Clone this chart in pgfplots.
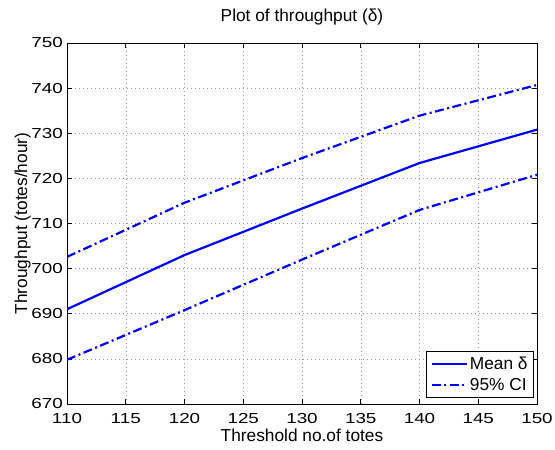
\documentclass[border=0pt]{standalone}
\usepackage{fontspec}
\setmainfont{Liberation Sans}
\newfontfamily\tickfont[FakeStretch=1.3]{Liberation Sans}
\usepackage{pgfplots}
\pgfplotsset{compat=1.18}
\definecolor{mblue}{RGB}{0,0,255}

\begin{document}
\begin{tikzpicture}
\begin{axis}[
    scale only axis,
    width=470bp, height=361bp,
    xmin=110, xmax=150,
    ymin=670, ymax=750,
    xtick={110,115,...,150},
    ytick={670,680,...,750},
    tick align=inside, xtick pos=both, ytick pos=both,
    major tick length=5bp,
    tick style={black, line width=0.6bp},
    axis line style={line width=0.8bp},
    grid=major,
    major grid style={gray!80, line width=0.5bp, dash pattern=on 1bp off 3bp},
    /pgf/number format/assume math mode=true,
    /pgf/number format/1000 sep={},
    ticklabel style={font=\tickfont\fontsize{14.5bp}{17bp}\selectfont, inner sep=0pt},
    xticklabel style={anchor=base, yshift=-19bp},
    yticklabel style={anchor=east, xshift=-4bp},
    title={Plot of throughput (δ)},
    title style={font=\fontsize{17.3bp}{20bp}\selectfont, at={(axis description cs:0.5,1.0443)}, anchor=base, inner sep=0pt},
    xlabel={Threshold no.of totes},
    xlabel style={font=\fontsize{17.3bp}{20bp}\selectfont, at={(axis description cs:0.5,-0.1025)}, anchor=base, inner sep=0pt},
    ylabel={Throughput (totes/hour)},
    ylabel style={font=\fontsize{17.3bp}{20bp}\selectfont, at={(axis description cs:-0.0851,0.5)}, rotate=0, anchor=base, inner sep=0pt},
    legend style={at={(axis description cs:0.9936,0.0166)}, anchor=south east,
        draw=black, line width=0.8bp, fill=white,
        font=\fontsize{17.3bp}{20bp}\selectfont,
        row sep=3bp, inner sep=4bp},
    legend cell align=left,
    legend image code/.code={\draw[#1] (0bp,0bp) -- (35bp,0bp);},
]
\coordinate (sw) at (rel axis cs:0,0);
\coordinate (ne) at (rel axis cs:1,1);
\addplot[mblue, line width=2.2bp] coordinates {
    (110,691.0)(120,703.0)(130,713.3)(140,723.4)(150,730.8)
};
\addlegendentry{Mean δ}
\addplot[mblue, line width=2.2bp, dash pattern=on 9bp off 3.5bp on 2bp off 3.5bp] coordinates {
    (110,702.6)(120,714.6)(130,724.5)(140,733.9)(150,740.7)
};
\addlegendentry{95\% CI}
\addplot[mblue, line width=2.2bp, dash pattern=on 9bp off 3.5bp on 2bp off 3.5bp, forget plot] coordinates {
    (110,679.8)(120,690.8)(130,702.0)(140,713.0)(150,720.8)
};
\end{axis}
\pgfresetboundingbox
\path[use as bounding box] ([shift={(-67bp,-46bp)}]sw) rectangle ([shift={(18bp,43bp)}]ne);
\end{tikzpicture}
\end{document}
